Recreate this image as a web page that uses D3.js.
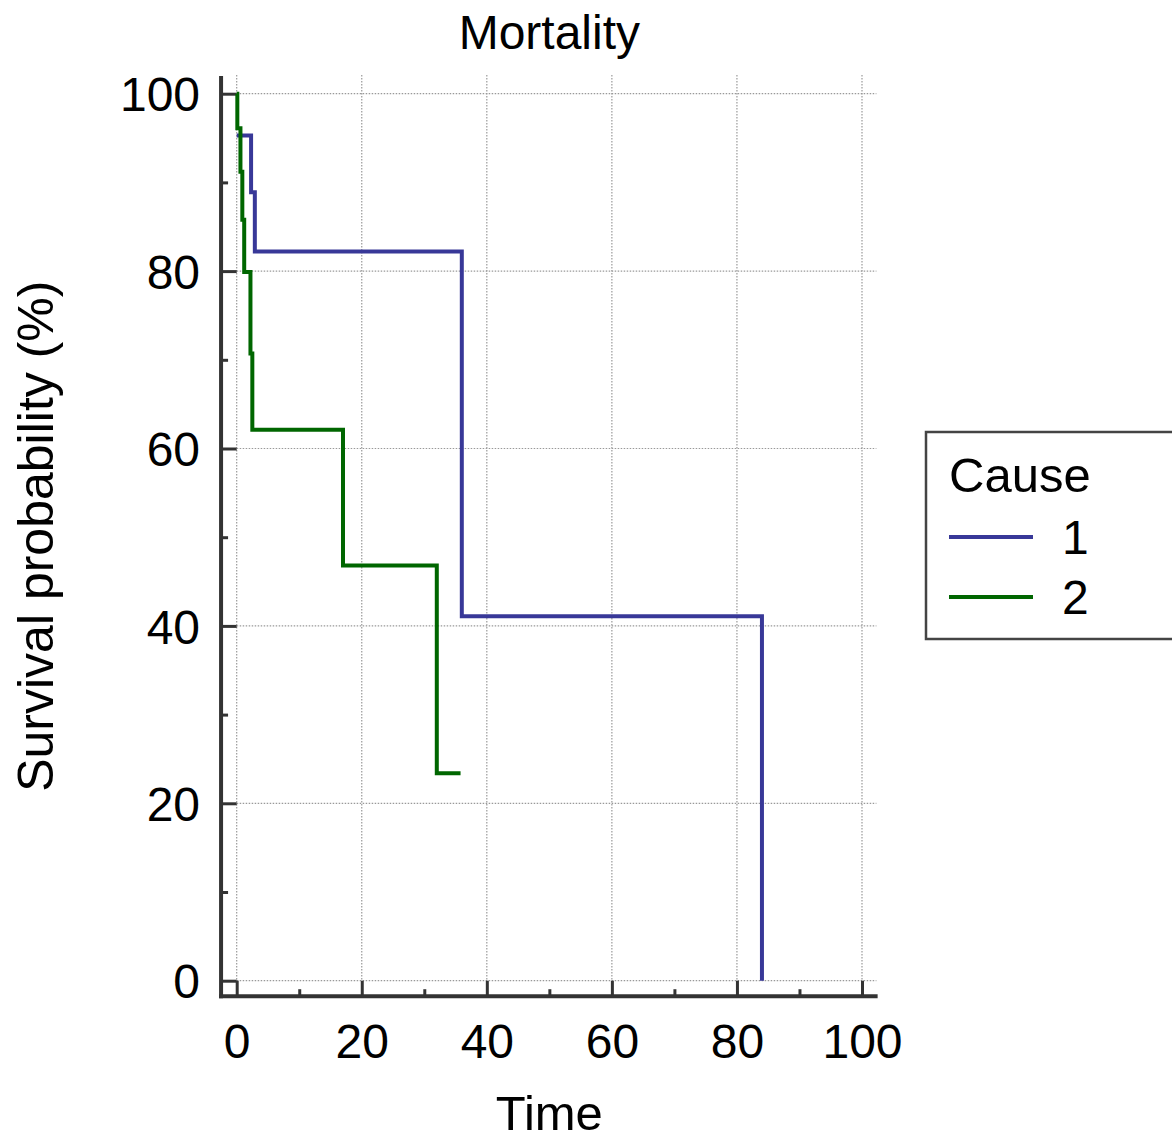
<!DOCTYPE html>
<html>
<head>
<meta charset="utf-8">
<script src="https://cdn.jsdelivr.net/npm/d3@7"></script>
<style>
  html, body { margin: 0; padding: 0; background: #fff; }
  svg { display: block; font-family: "Liberation Sans", Arial, sans-serif; }
</style>
</head>
<body>
<div id="chart"></div>
<script>
// Kaplan-Meier steps
const cause1Time = [0, 2.3, 2.9, 36.0, 84.0];
const cause1Surv = [95.3, 88.9, 82.2, 41.1, 0];
const cause2Time = [0, 0.1, 0.6, 0.9, 1.2, 2.2, 2.5, 17.0, 32.0, 35.8];
const cause2Surv = [100, 96.1, 91.2, 85.8, 79.9, 70.7, 62.1, 46.8, 23.4, 23.4];

const seriesNames = ['1', '2'];
const seriesColors = ['#383898', '#006600'];
const xTicks = [0, 20, 40, 60, 80, 100];
const xMinor = [10, 30, 50, 70, 90];
const yTicks = [0, 20, 40, 60, 80, 100];
const yMinor = [10, 30, 50, 70, 90];

const width = 1172, height = 1140;

const x = d3.scaleLinear().domain([0, 100]).range([236.7, 862]);
const y = d3.scaleLinear().domain([0, 100]).range([980.7, 93.7]);

// axis lines sit a bit outside the data range
const axisLeftX = x(-2.5);
const axisBottomY = y(-1.75);
const gridRight = x(102.3);
const gridTop = y(102.1);

const svg = d3.select('#chart').append('svg')
    .attr('width', width)
    .attr('height', height);

// dotted grid
const grid = svg.append('g')
    .attr('stroke', '#999')
    .attr('stroke-width', 1.2)
    .attr('stroke-dasharray', '1.5,1.5');

grid.selectAll('.gx')
    .data(xTicks)
    .join('line')
    .attr('x1', d => x(d)).attr('x2', d => x(d))
    .attr('y1', gridTop).attr('y2', y(0));

grid.selectAll('.gy')
    .data(yTicks)
    .join('line')
    .attr('x1', x(0)).attr('x2', gridRight)
    .attr('y1', d => y(d)).attr('y2', d => y(d));

// axes
function styleAxis(g) {
    g.select('.domain').remove();
    g.selectAll('.tick line').attr('stroke', '#333').attr('stroke-width', 3);
    g.selectAll('.tick text')
        .attr('fill', '#000')
        .style('font-size', '48px');
}

svg.append('g')
    .attr('transform', `translate(${axisLeftX},0)`)
    .call(d3.axisLeft(y).tickValues(yTicks).tickSize(-(x(0) - axisLeftX)).tickPadding(21))
    .call(styleAxis)
    .selectAll('.tick text').attr('dy', '0.36em');

svg.append('g')
    .attr('transform', `translate(${axisLeftX},0)`)
    .call(d3.axisLeft(y).tickValues(yMinor).tickSize(-7).tickFormat(''))
    .call(styleAxis);

svg.append('g')
    .attr('transform', `translate(0,${axisBottomY})`)
    .call(d3.axisBottom(x).tickValues(xTicks).tickSize(-(axisBottomY - y(0))).tickPadding(28))
    .call(styleAxis);

svg.append('g')
    .attr('transform', `translate(0,${axisBottomY})`)
    .call(d3.axisBottom(x).tickValues(xMinor).tickSize(-7).tickFormat(''))
    .call(styleAxis);

svg.append('line')
    .attr('x1', axisLeftX).attr('x2', axisLeftX)
    .attr('y1', 76).attr('y2', axisBottomY + 2)
    .attr('stroke', '#333').attr('stroke-width', 4);

svg.append('line')
    .attr('x1', axisLeftX - 2).attr('x2', x(102.5))
    .attr('y1', axisBottomY).attr('y2', axisBottomY)
    .attr('stroke', '#333').attr('stroke-width', 4);

// survival curves
const line = d3.line()
    .x(d => x(d[0]))
    .y(d => y(d[1]))
    .curve(d3.curveStepAfter);

const series = [
    d3.zip(cause1Time, cause1Surv),
    d3.zip(cause2Time, cause2Surv)
];

svg.append('g')
    .selectAll('path')
    .data(series)
    .join('path')
    .attr('d', line)
    .attr('fill', 'none')
    .attr('stroke', (d, i) => seriesColors[i])
    .attr('stroke-width', 4);

// titles
svg.append('text')
    .attr('x', x(50)).attr('y', 49)
    .attr('text-anchor', 'middle')
    .style('font-size', '48px')
    .text('Mortality');

svg.append('text')
    .attr('x', x(50)).attr('y', 1130)
    .attr('text-anchor', 'middle')
    .style('font-size', '49px')
    .text('Time');

svg.append('text')
    .attr('transform', `translate(53,${y(50) - 1})rotate(-90)`)
    .attr('text-anchor', 'middle')
    .style('font-size', '50px')
    .text('Survival probability (%)');

// legend
const legend = svg.append('g').attr('transform', 'translate(926,432)');

legend.append('rect')
    .attr('width', 270).attr('height', 207)
    .attr('fill', '#fff')
    .attr('stroke', '#444')
    .attr('stroke-width', 2.5);

legend.append('text')
    .attr('x', 23).attr('y', 60)
    .style('font-size', '49px')
    .text('Cause');

const items = legend.selectAll('.item')
    .data(seriesNames)
    .join('g')
    .attr('transform', (d, i) => `translate(0,${105 + i * 60})`);

items.append('line')
    .attr('x1', 23).attr('x2', 107)
    .attr('stroke', (d, i) => seriesColors[i])
    .attr('stroke-width', 4);

items.append('text')
    .attr('x', 136).attr('y', 17)
    .style('font-size', '48px')
    .text(d => d);
</script>
</body>
</html>
